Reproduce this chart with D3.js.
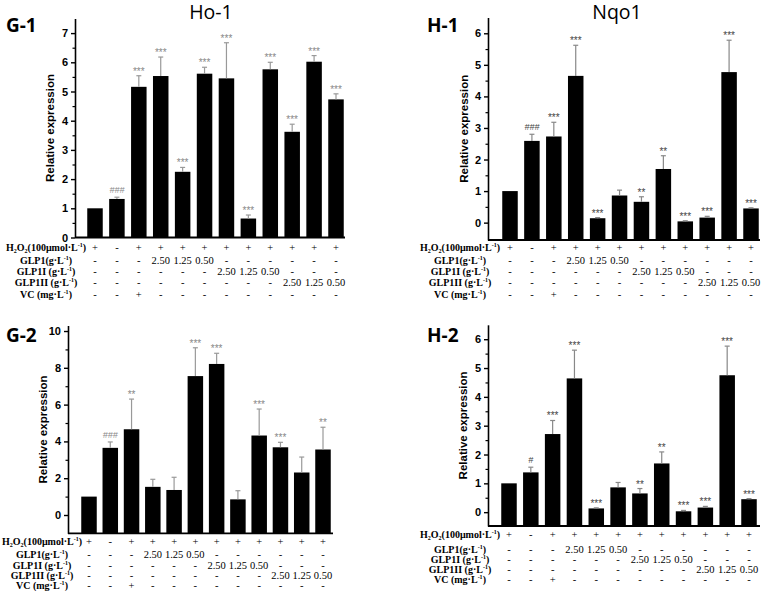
<!DOCTYPE html>
<html>
<head>
<meta charset="utf-8">
<script src="https://cdn.jsdelivr.net/npm/d3@7"></script>
<style>
  body { margin: 0; background: #fff; }
  .tick text { font-family: "Liberation Sans", Arial, sans-serif; font-weight: bold; font-size: 11px; }
</style>
</head>
<body>
<svg id="chart" width="765" height="591"></svg>
<script>
// treatment table under every panel (12 columns)
var h2o2Row   = ['+','-','+','+','+','+','+','+','+','+','+','+'];
var glp1Row   = ['-','-','-','2.50','1.25','0.50','-','-','-','-','-','-'];
var glp1iRow  = ['-','-','-','-','-','-','2.50','1.25','0.50','-','-','-'];
var glp1iiRow = ['-','-','-','-','-','-','-','-','-','2.50','1.25','0.50'];
var vcRow     = ['-','-','+','-','-','-','-','-','-','-','-','-'];
var rowNames  = ['H_2O_2(100μmol·L^-1)', 'GLP1(g·L^-1)', 'GLP1I (g·L^-1)', 'GLP1II (g·L^-1)', 'VC (mg·L^-1)'];

// G-1  Ho-1
var g1Mean = [1.00, 1.32, 5.16, 5.53, 2.25, 5.61, 5.45, 0.65, 5.76, 3.62, 6.02, 4.73];
var g1Err  = [0.00, 0.06, 0.38, 0.65, 0.15, 0.22, 1.22, 0.12, 0.24, 0.26, 0.21, 0.19];
var g1Sig  = ['', '###', '***', '***', '***', '***', '***', '***', '***', '***', '***', '***'];
var g1Ticks = [0, 1, 2, 3, 4, 5, 6, 7];

// H-1  Nqo1
var h1Mean = [1.00, 2.59, 2.73, 4.65, 0.14, 0.86, 0.66, 1.70, 0.04, 0.16, 4.77, 0.45];
var h1Err  = [0.00, 0.21, 0.45, 0.97, 0.02, 0.17, 0.16, 0.42, 0.02, 0.04, 1.01, 0.02];
var h1Sig  = ['', '###', '***', '***', '***', '', '**', '**', '***', '***', '***', '***'];
var h1Ticks = [0, 1, 2, 3, 4, 5, 6];

// G-2
var g2Mean = [1.00, 3.65, 4.66, 1.53, 1.36, 7.55, 8.21, 0.85, 4.32, 3.68, 2.31, 3.56];
var g2Err  = [0.00, 0.32, 1.64, 0.41, 0.69, 1.54, 0.58, 0.47, 1.44, 0.27, 0.84, 1.21];
var g2Sig  = ['', '###', '**', '', '', '***', '***', '', '***', '***', '', '**'];
var g2Ticks = [0, 2, 4, 6, 8, 10];

// H-2
var h2Mean = [1.00, 1.38, 2.71, 4.64, 0.13, 0.86, 0.65, 1.69, 0.03, 0.16, 4.75, 0.45];
var h2Err  = [0.00, 0.18, 0.47, 0.98, 0.02, 0.17, 0.17, 0.40, 0.03, 0.04, 1.01, 0.02];
var h2Sig  = ['', '#', '***', '***', '***', '', '**', '**', '***', '***', '***', '***'];
var h2Ticks = [0, 1, 2, 3, 4, 5, 6];

var svg = d3.select('#chart');
var rows = [h2o2Row, glp1Row, glp1iRow, glp1iiRow, vcRow];

var panels = [
  { tag: 'G-1', title: 'Ho-1', mean: g1Mean, err: g1Err, sig: g1Sig, ticks: g1Ticks, minorStep: 0.5,
    yDomain: [0, 7.5], yRange: [237.5, 18.5], axisX: 75, xEnd: 345, xRange: [95, 336],
    labelX: 46, rowY: [247, 260, 271, 282, 294], ylabelX: 50,
    tagX: 6, tagY: 32, titleX: 211, titleY: 19, errColor: '#999', sigColor: '#888' },
  { tag: 'H-1', title: 'Nqo1', mean: h1Mean, err: h1Err, sig: h1Sig, ticks: h1Ticks, minorStep: 0.5,
    yDomain: [-0.55, 6.5], yRange: [240, 17.5], axisX: 488, xEnd: 760, xRange: [510, 751],
    labelX: 460, rowY: [247, 260, 271, 282, 294], ylabelX: 464,
    tagX: 427, tagY: 32, titleX: 617, titleY: 19, errColor: '#888', sigColor: '#444' },
  { tag: 'G-2', title: null, mean: g2Mean, err: g2Err, sig: g2Sig, ticks: g2Ticks, minorStep: 1,
    yDomain: [-1, 10.3], yRange: [533.4, 325.5], axisX: 68, xEnd: 333, xRange: [89, 323],
    labelX: 42, rowY: [541, 554, 565, 575, 585], ylabelX: 43,
    tagX: 6, tagY: 342, errColor: '#999', sigColor: '#888' },
  { tag: 'H-2', title: null, mean: h2Mean, err: h2Err, sig: h2Sig, ticks: h2Ticks, minorStep: 0.5,
    yDomain: [-0.48, 6.5], yRange: [526, 324.8], axisX: 488, xEnd: 760, xRange: [509, 749],
    labelX: 460, rowY: [534, 549, 559, 569, 579], ylabelX: 463,
    tagX: 427, tagY: 342, errColor: '#888', sigColor: '#444' }
];

// split "H_2O_2(...L^-1)" into plain / sub / sup pieces
function addRich(textSel, str, size) {
  var parts = str.split(/(_\d|\^-1)/).filter(function(s) { return s !== ''; });
  var shift = 0;
  parts.forEach(function(p) {
    var t = textSel.append('tspan');
    if (p[0] === '_') {
      t.text(p.slice(1)).attr('font-size', size * 0.6).attr('dy', 2.5 - shift);
      shift = 2.5;
    } else if (p[0] === '^') {
      t.text(p.slice(1)).attr('font-size', size * 0.6).attr('dy', -4 - shift);
      shift = -4;
    } else {
      t.text(p).attr('dy', -shift);
      shift = 0;
    }
  });
}

panels.forEach(function(p) {
  var g = svg.append('g');
  var idx = d3.range(p.mean.length);
  var x = d3.scalePoint().domain(idx).range(p.xRange);
  var y = d3.scaleLinear().domain(p.yDomain).range(p.yRange);
  var barW = 15.5;
  var base = p.yRange[0];

  // bars
  g.selectAll('rect.bar').data(idx).enter().append('rect')
    .attr('x', function(i) { return x(i) - barW / 2; })
    .attr('y', function(i) { return y(p.mean[i]); })
    .attr('width', barW)
    .attr('height', function(i) { return base - y(p.mean[i]); })
    .attr('fill', '#000');

  // upper error bars
  var withErr = idx.filter(function(i) { return p.err[i] > 0; });
  g.selectAll('line.err').data(withErr).enter().append('line')
    .attr('x1', function(i) { return x(i); }).attr('x2', function(i) { return x(i); })
    .attr('y1', function(i) { return y(p.mean[i]); })
    .attr('y2', function(i) { return y(p.mean[i] + p.err[i]); })
    .attr('stroke', p.errColor).attr('stroke-width', 1.2);
  g.selectAll('line.cap').data(withErr).enter().append('line')
    .attr('x1', function(i) { return x(i) - 2.5; }).attr('x2', function(i) { return x(i) + 2.5; })
    .attr('y1', function(i) { return y(p.mean[i] + p.err[i]); })
    .attr('y2', function(i) { return y(p.mean[i] + p.err[i]); })
    .attr('stroke', p.errColor).attr('stroke-width', 1.2);

  // significance marks
  g.selectAll('text.sig').data(idx.filter(function(i) { return p.sig[i]; })).enter().append('text')
    .attr('x', function(i) { return x(i); })
    .attr('y', function(i) {
      return y(p.mean[i] + p.err[i]) - (p.sig[i][0] === '#' ? 4 : 1);
    })
    .attr('text-anchor', 'middle')
    .attr('font-family', 'Liberation Sans, Arial, sans-serif')
    .attr('font-size', function(i) { return p.sig[i][0] === '#' ? 9 : 10; })
    .attr('font-style', function(i) { return p.sig[i][0] === '#' ? 'italic' : 'normal'; })
    .attr('fill', p.sigColor)
    .text(function(i) { return p.sig[i]; });

  // y axis: major + minor ticks
  var minors = d3.range(0, p.yDomain[1], p.minorStep)
    .filter(function(v) { return p.ticks.indexOf(v) < 0; });
  g.append('g').attr('transform', 'translate(' + p.axisX + ',0)')
    .call(d3.axisLeft(y).tickValues(minors).tickFormat('').tickSize(2.5).tickSizeOuter(0))
    .call(function(a) { a.select('.domain').remove(); a.selectAll('line').attr('stroke-width', 1.2); });
  g.append('g').attr('transform', 'translate(' + p.axisX + ',0)')
    .call(d3.axisLeft(y).tickValues(p.ticks).tickFormat(d3.format('d'))
      .tickSize(4).tickPadding(3).tickSizeOuter(0))
    .call(function(a) {
      a.select('.domain').attr('stroke-width', 1.6);
      a.selectAll('.tick line').attr('stroke-width', 1.4);
    });

  // x baseline
  g.append('line')
    .attr('x1', p.axisX).attr('x2', p.xEnd)
    .attr('y1', base).attr('y2', base)
    .attr('stroke', '#000').attr('stroke-width', 1.8);

  // y label
  g.append('text')
    .attr('transform', 'translate(' + p.ylabelX + ',' + ((p.yRange[0] + p.yRange[1]) / 2) + ') rotate(-90)')
    .attr('text-anchor', 'middle')
    .attr('dominant-baseline', 'central')
    .attr('font-family', 'Liberation Sans, Arial, sans-serif')
    .attr('font-weight', 'bold')
    .attr('font-size', 11.5)
    .text('Relative expression');

  // treatment table
  rows.forEach(function(row, r) {
    var lbl = g.append('text')
      .attr('x', p.labelX).attr('y', p.rowY[r] + 3.5)
      .attr('text-anchor', 'middle')
      .attr('font-family', 'Liberation Serif, Times New Roman, serif')
      .attr('font-weight', 'bold')
      .attr('font-size', 10);
    addRich(lbl, rowNames[r], 10);

    g.selectAll(null).data(row).enter().append('text')
      .attr('x', function(d, i) { return x(i); })
      .attr('y', p.rowY[r] + 3.5)
      .attr('text-anchor', 'middle')
      .attr('font-family', 'Liberation Serif, Times New Roman, serif')
      .attr('font-size', 10.5)
      .text(function(d) { return d; });
  });

  // panel tag and title
  g.append('text')
    .attr('x', p.tagX).attr('y', p.tagY)
    .attr('font-family', 'Open Sans, DejaVu Sans, sans-serif')
    .attr('font-weight', 'bold')
    .attr('font-size', 19)
    .text(p.tag);
  if (p.title) {
    g.append('text')
      .attr('x', p.titleX).attr('y', p.titleY)
      .attr('text-anchor', 'middle')
      .attr('font-family', 'Open Sans, DejaVu Sans, sans-serif')
      .attr('font-size', 19.5)
      .text(p.title);
  }
});
</script>
</body>
</html>
